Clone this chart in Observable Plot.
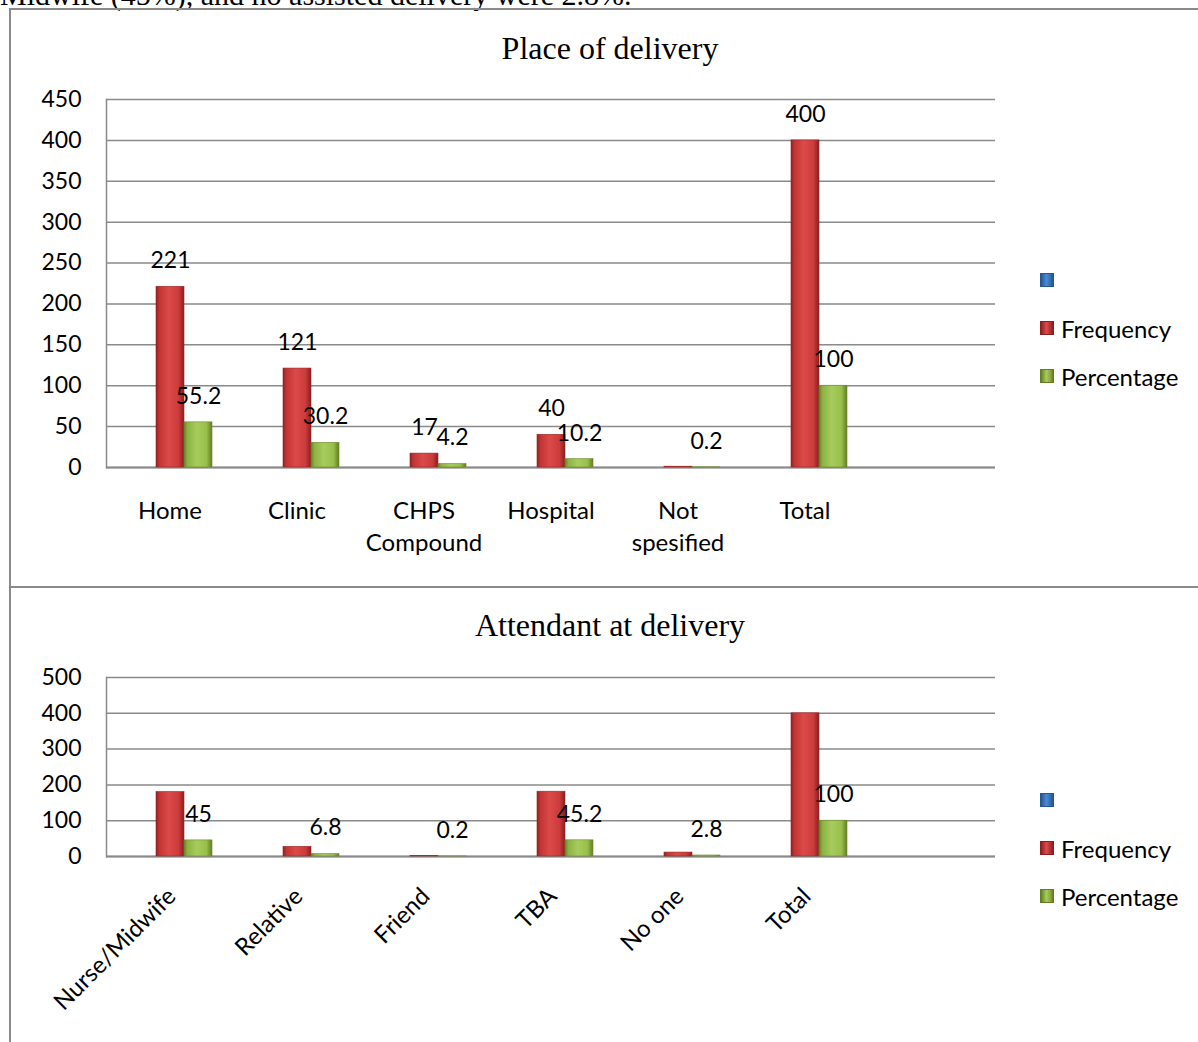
<!DOCTYPE html>
<html>
<head>
<meta charset="utf-8">
<script src="https://cdn.jsdelivr.net/npm/d3@7"></script>
<script src="https://cdn.jsdelivr.net/npm/@observablehq/plot@0.6"></script>
<style>
  html, body { margin: 0; padding: 0; background: #fff; }
  #page { position: relative; width: 1198px; height: 1042px; overflow: hidden; background: #fff; }
  .lead { position: absolute; left: 0; top: -20px; font: 30px "Liberation Serif", "Times New Roman", serif; line-height: 30px; white-space: nowrap; color: #000; }
  .box { position: absolute; box-sizing: border-box; border-color: #8a8a8a; border-style: solid; }
  .title { position: absolute; transform: translateX(-50%); font: 32px "Liberation Serif", "Times New Roman", serif; white-space: nowrap; color: #000; }
  .chart { position: absolute; left: 10px; }
  .legend { position: absolute; left: 1040px; font: 24px Lato, sans-serif; color: #000; }
  .legend .row { display: flex; align-items: center; height: 48px; }
  .legend .swatch { width: 14px; height: 14px; margin-right: 7px; box-sizing: border-box; }
</style>
</head>
<body>
<div id="page">
  <div class="lead">Midwife (45%), and no assisted delivery were 2.8%.</div>
  <div class="box" style="left:9px; top:8px; width:1195px; height:580px; border-width:2px 0 2px 2px;"></div>
  <div class="box" style="left:9px; top:586px; width:2px; height:470px; border-width:0 0 0 2px;"></div>
  <div class="title" style="left:610px; top:30px;">Place of delivery</div>
  <div class="title" style="left:610px; top:607px;">Attendant at delivery</div>
  <div id="place" class="chart" style="top:80px;"></div>
  <div id="attendant" class="chart" style="top:650px;"></div>
  <div id="placeLegend" class="legend" style="top:256px;"></div>
  <div id="attendantLegend" class="legend" style="top:776px;"></div>
</div>
<script>
// Place of delivery
const placeCategories = ["Home", "Clinic", "CHPS\nCompound", "Hospital", "Not\nspesified", "Total"];
const placeFrequency = [221, 121, 17, 40, 1, 400];
const placePercentage = [55.2, 30.2, 4.2, 10.2, 0.2, 100];
const placeFrequencyLabelled = [true, true, true, true, false, true];
const placePercentageLabelled = [true, true, true, true, true, true];
const placeTicks = [0, 50, 100, 150, 200, 250, 300, 350, 400, 450];

// Attendant at delivery
const attendantCategories = ["Nurse/Midwife", "Relative", "Friend", "TBA", "No one", "Total"];
const attendantFrequency = [180, 27, 1, 181, 11, 400];
const attendantPercentage = [45, 6.8, 0.2, 45.2, 2.8, 100];
const attendantFrequencyLabelled = [false, false, false, false, false, false];
const attendantPercentageLabelled = [true, true, true, true, true, true];
const attendantTicks = [0, 100, 200, 300, 400, 500];

// The worksheet range carries one trailing empty row and one unnamed, empty series
const blankCategory = " ";
const blankSeries = " ";
const seriesNames = [blankSeries, "Frequency", "Percentage"];
const seriesColors = {
  [blankSeries]: ["#26568f", "#4a8bd6", "#2f66a8"],
  "Frequency": ["#8a1f1f", "#dc4a4a", "#a82b2b"],
  "Percentage": ["#627d24", "#a8cd5e", "#7f9f36"]
};

const gridColor = "#8a8a8a";

function tidy(categories, freq, pct, freqLab, pctLab) {
  const rows = [];
  [...categories, blankCategory].forEach((c, i) => {
    rows.push({category: c, series: blankSeries, value: null, labelled: false});
    if (i < categories.length) {
      rows.push({category: c, series: "Frequency", value: freq[i], labelled: freqLab[i]});
      rows.push({category: c, series: "Percentage", value: pct[i], labelled: pctLab[i]});
    }
  });
  return rows;
}

const gradientDefs = `
  <defs>
    <linearGradient id="barBlue" x1="0" x2="1" y1="0" y2="0">
      <stop offset="0" stop-color="#26568f"/>
      <stop offset="0.45" stop-color="#4a8bd6"/>
      <stop offset="1" stop-color="#26568f"/>
    </linearGradient>
    <linearGradient id="barRed" x1="0" x2="1" y1="0" y2="0">
      <stop offset="0" stop-color="#8e2020"/>
      <stop offset="0.12" stop-color="#c23434"/>
      <stop offset="0.45" stop-color="#dc4949"/>
      <stop offset="0.8" stop-color="#cc3c3c"/>
      <stop offset="1" stop-color="#8a1e1e"/>
    </linearGradient>
    <linearGradient id="barGreen" x1="0" x2="1" y1="0" y2="0">
      <stop offset="0" stop-color="#647f26"/>
      <stop offset="0.12" stop-color="#8db244"/>
      <stop offset="0.45" stop-color="#a7cc5d"/>
      <stop offset="0.8" stop-color="#98bf4b"/>
      <stop offset="1" stop-color="#627d24"/>
    </linearGradient>
  </defs>`;

const seriesFill = {[blankSeries]: "url(#barBlue)", "Frequency": "url(#barRed)", "Percentage": "url(#barGreen)"};
const seriesStroke = {[blankSeries]: "#26568f", "Frequency": "#9a2626", "Percentage": "#6d8a2a"};

function groupedBars({categories, rows, ticks, height, marginTop, marginBottom, tickPadding, rotate}) {
  const plot = Plot.plot({
    width: 1188,
    height,
    marginLeft: 94,
    marginRight: 201,
    marginTop,
    marginBottom,
    style: {fontFamily: "Lato, sans-serif", fontSize: "23px", color: "#000", background: "transparent", overflow: "visible"},
    fx: {domain: [...categories, blankCategory], padding: 0, label: null},
    x: {domain: seriesNames, paddingInner: 0, paddingOuter: 0.74, axis: null},
    y: {domain: [0, ticks[ticks.length - 1]], label: null},
    marks: [
      Plot.gridY({ticks, stroke: gridColor, strokeOpacity: 1, strokeWidth: 1.5}),
      Plot.frame({anchor: "left", facetAnchor: "left", stroke: gridColor, strokeOpacity: 1, strokeWidth: 1.5}),
      Plot.ruleY([0], {stroke: gridColor, strokeWidth: 2}),
      ...seriesNames.map(s => Plot.barY(rows.filter(d => d.series === s), {
        fx: "category", x: "series", y: "value", fill: seriesFill[s], stroke: seriesStroke[s], strokeWidth: 0.6
      })),
      Plot.text(rows.filter(d => d.labelled), {
        fx: "category", x: "series", y: "value", text: d => String(d.value), dy: -26, fontSize: 23, fill: "#000"
      }),
      Plot.axisY({ticks, tickSize: 0, tickPadding: 25, fontSize: 23, label: null}),
      Plot.axisFx({
        anchor: "bottom", tickSize: 0, tickPadding, fontSize: 24, label: null,
        lineHeight: 1.35, tickRotate: rotate
      })
    ]
  });
  plot.insertAdjacentHTML("afterbegin", gradientDefs);
  return plot;
}

document.getElementById("place").append(groupedBars({
  categories: placeCategories,
  rows: tidy(placeCategories, placeFrequency, placePercentage, placeFrequencyLabelled, placePercentageLabelled),
  ticks: placeTicks,
  height: 500, marginTop: 19, marginBottom: 113, tickPadding: 28, rotate: 0
}));

document.getElementById("attendant").append(groupedBars({
  categories: attendantCategories,
  rows: tidy(attendantCategories, attendantFrequency, attendantPercentage, attendantFrequencyLabelled, attendantPercentageLabelled),
  ticks: attendantTicks,
  height: 392, marginTop: 27, marginBottom: 186, tickPadding: 34, rotate: -45
}));

function legend(el) {
  for (const name of seriesNames) {
    const [dark, light, mid] = seriesColors[name];
    const row = document.createElement("div");
    row.className = "row";
    const sw = document.createElement("div");
    sw.className = "swatch";
    sw.style.background = `linear-gradient(to right, ${dark}, ${light} 45%, ${mid} 85%, ${dark})`;
    sw.style.border = `1px solid ${dark}`;
    const label = document.createElement("span");
    label.textContent = name.trim();
    row.append(sw, label);
    el.append(row);
  }
}
legend(document.getElementById("placeLegend"));
legend(document.getElementById("attendantLegend"));
</script>
</body>
</html>
